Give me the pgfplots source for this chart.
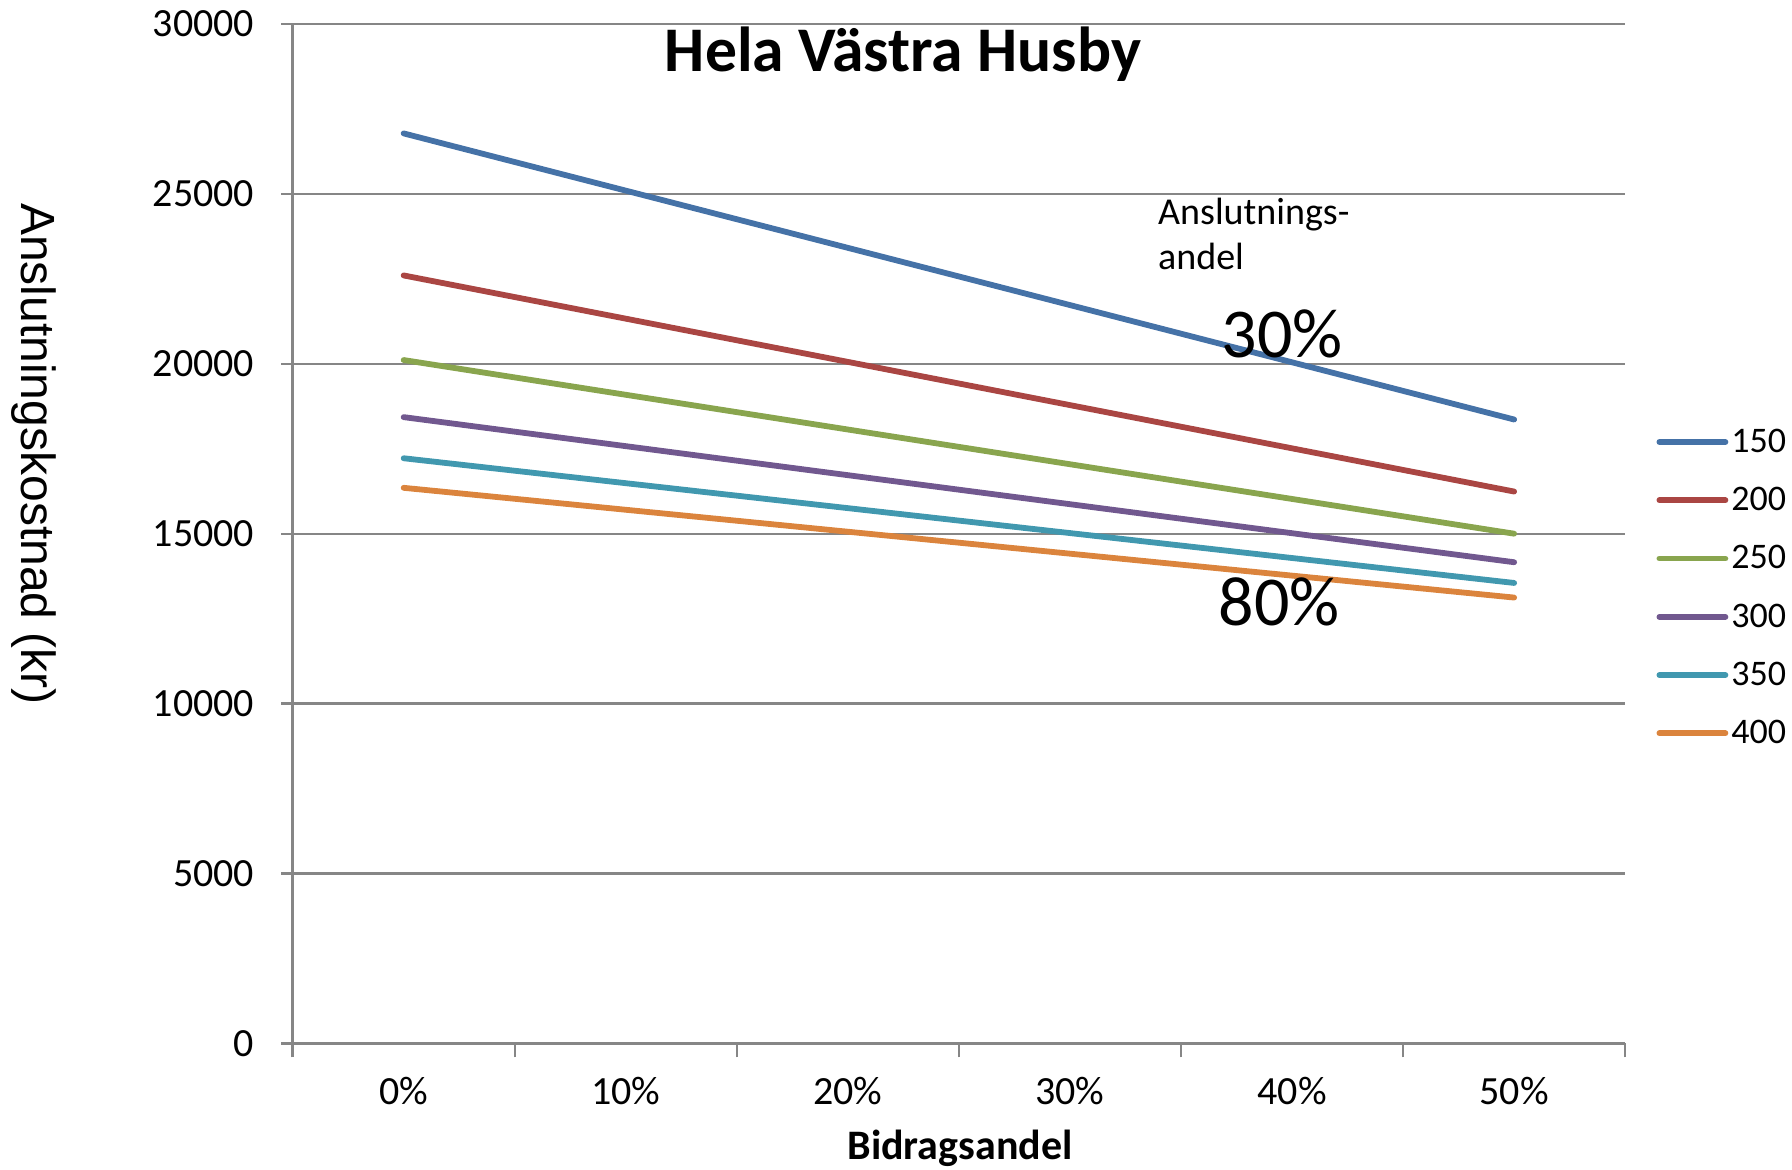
\documentclass[border=0pt]{standalone}
\usepackage{fontspec}
\setmainfont{Carlito}
\newfontfamily\arialf{Liberation Sans}
\usepackage{pgfplots}
\pgfplotsset{compat=1.18}
\definecolor{c1}{HTML}{4572A7}
\definecolor{c2}{HTML}{AA4643}
\definecolor{c3}{HTML}{89A54E}
\definecolor{c4}{HTML}{71588F}
\definecolor{c5}{HTML}{4198AF}
\definecolor{c6}{HTML}{DB843D}
\definecolor{gridc}{HTML}{868686}
\begin{document}
\begin{tikzpicture}
\useasboundingbox (-146.3pt,-63.3pt) rectangle (749.7pt,521.7pt);
\begin{axis}[
  at={(0pt,0pt)}, anchor=south west,
  scale only axis, width=666.3pt, height=509.7pt,
  xmin=-0.5, xmax=5.5, ymin=0, ymax=30000,
  axis x line=bottom, axis y line=left,
  axis line style={-, draw=gridc, line width=1.15pt},
  xtick={0,...,5}, xticklabels={0\%,10\%,20\%,30\%,40\%,50\%},
  minor xtick={-0.5,0.5,...,5.5},
  ytick={0,5000,...,30000},
  scaled y ticks=false,
  ymajorgrids, grid style={gridc, line width=1.15pt},
  tick align=outside,
  major tick length=5.7pt, minor tick length=7pt,
  major x tick style={draw=none},
  tick style={gridc, line width=1.15pt},
  ticklabel style={font=\fontsize{20}{24}\selectfont},
  /pgf/number format/assume math mode=true,
  /pgf/number format/1000 sep={},
  xticklabel style={anchor=center, yshift=-18.3pt},
  yticklabel style={anchor=east, xshift=-10pt},
  legend style={at={(1.0232,0.447)}, anchor=west, draw=none, fill=none,
    inner sep=0pt, row sep=15.95pt, font=\fontsize{18}{22}\selectfont,
    nodes={inner xsep=1.5pt, inner ysep=0pt}},
  legend cell align=left,
  legend image code/.code={\draw[#1, line width=2.9pt, line cap=round] (0pt,0pt) -- (33pt,0pt);},
  every axis plot/.append style={line width=2.9pt, line cap=round, line join=round, mark=none},
]
\addplot[c1] coordinates {(0,26780) (1,25096) (2,23412) (3,21728) (4,20044) (5,18360)};
\addplot[c2] coordinates {(0,22600) (1,21328) (2,20056) (3,18784) (4,17512) (5,16240)};
\addplot[c3] coordinates {(0,20110) (1,19088) (2,18066) (3,17044) (4,16022) (5,15000)};
\addplot[c4] coordinates {(0,18430) (1,17576) (2,16722) (3,15868) (4,15014) (5,14160)};
\addplot[c5] coordinates {(0,17220) (1,16486) (2,15752) (3,15018) (4,14284) (5,13550)};
\addplot[c6] coordinates {(0,16350) (1,15704) (2,15058) (3,14412) (4,13766) (5,13120)};
\legend{150,200,250,300,350,400}
\end{axis}
\node[font=\fontsize{31.8}{36}\selectfont\bfseries] at (305.2pt,494.4pt) {Hela Västra Husby};
\node[font=\fontsize{21}{24}\selectfont\bfseries, inner sep=0pt, anchor=base] at (333.7pt,-58pt) {Bidragsandel};
\node[font=\arialf\fontsize{24}{28}\selectfont, rotate=-90] at (-129.3pt,294.7pt) {Anslutningskostnad (kr)};
\node[font=\fontsize{19}{20.6}\selectfont, anchor=west, inner sep=0pt] at (432.6pt,414.3pt) {Anslutnings-};
\node[font=\fontsize{19}{20.6}\selectfont, anchor=west, inner sep=0pt] at (432.6pt,393.7pt) {andel};
\node[font=\fontsize{35}{40}\selectfont] at (494.7pt,354.9pt) {30\%};
\node[font=\fontsize{35}{40}\selectfont] at (493.2pt,220.7pt) {80\%};
\end{tikzpicture}
\end{document}
